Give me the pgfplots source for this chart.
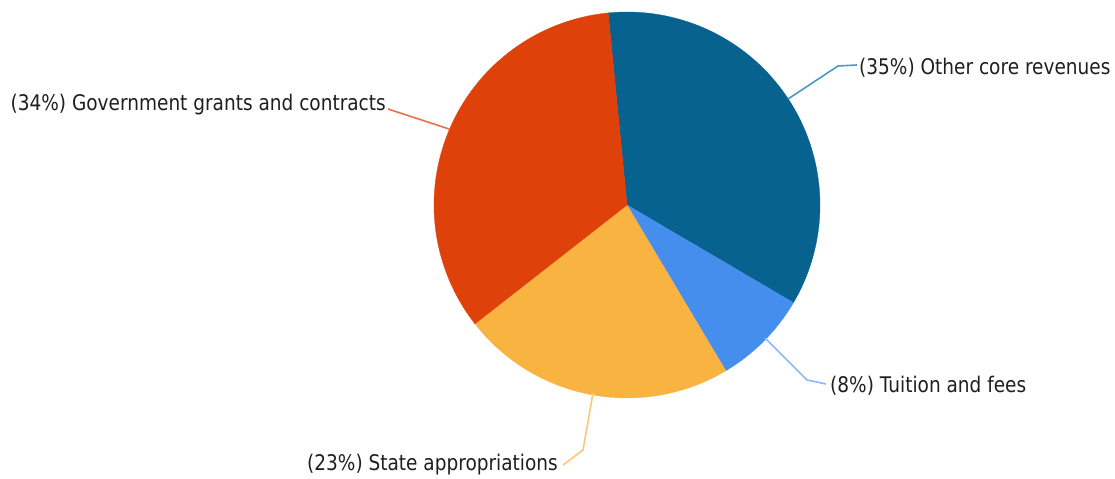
\documentclass[border=0pt]{standalone}
\usepackage{fontspec}
\setmainfont{DejaVu Sans}[FakeStretch=0.86]
\usepackage{pgfplots}
\usepackage{pgfplotstable}
\pgfplotsset{compat=1.18}

\definecolor{cother}{HTML}{07628F}
\definecolor{ctuition}{HTML}{468EEE}
\definecolor{cstate}{HTML}{F9B341}
\definecolor{cgov}{HTML}{DF410A}
\definecolor{lother}{HTML}{4A98C4}
\definecolor{ltuition}{HTML}{8DB9F4}
\definecolor{lstate}{HTML}{FBC878}
\definecolor{lgov}{HTML}{E9714A}

\pgfplotstableread{
label value
other 35
tuition 8
state 23
gov 34
}\piedata

\pgfplotstablegetelem{0}{value}\of\piedata \let\vA\pgfplotsretval
\pgfplotstablegetelem{1}{value}\of\piedata \let\vB\pgfplotsretval
\pgfplotstablegetelem{2}{value}\of\piedata \let\vC\pgfplotsretval
\pgfplotstablegetelem{3}{value}\of\piedata \let\vD\pgfplotsretval
\pgfmathsetmacro\aA{95.6}
\pgfmathsetmacro\aB{\aA-3.6*\vA}
\pgfmathsetmacro\aC{\aB-3.6*\vB}
\pgfmathsetmacro\aD{\aC-3.6*\vC}
\pgfmathsetmacro\aE{\aD-3.6*\vD}

\tikzset{lbl/.style={font=\fontsize{21.6}{25}\selectfont, text=black!88, inner sep=0pt}}

\begin{document}
\begin{tikzpicture}
\begin{axis}[width=1115bp, height=479bp, scale only axis,
  xmin=0, xmax=1115, ymin=0, ymax=479, hide axis, clip=false]
\path[draw=none] (axis cs:0,0) rectangle (axis cs:1115,479);
\addplot[fill=cother, draw=cother, line width=0.3pt, domain=\aB:\aA, samples=120, variable=\t]
  ({627+193*cos(\t)}, {274+193*sin(\t)}) -- (axis cs:627,274) -- cycle;
\addplot[fill=ctuition, draw=ctuition, line width=0.3pt, domain=\aC:\aB, samples=40, variable=\t]
  ({627+193*cos(\t)}, {274+193*sin(\t)}) -- (axis cs:627,274) -- cycle;
\addplot[fill=cstate, draw=cstate, line width=0.3pt, domain=\aD:\aC, samples=90, variable=\t]
  ({627+193*cos(\t)}, {274+193*sin(\t)}) -- (axis cs:627,274) -- cycle;
\addplot[fill=cgov, draw=cgov, line width=0.3pt, domain=\aE:\aD, samples=120, variable=\t]
  ({627+193*cos(\t)}, {274+193*sin(\t)}) -- (axis cs:627,274) -- cycle;
% leader lines
\addplot[lother, line width=1.6pt, mark=none] coordinates {(788,380) (838,413) (857,414)};
\addplot[lgov, line width=1.6pt, mark=none] coordinates {(449,350) (388,370)};
\addplot[ltuition, line width=1.6pt, mark=none] coordinates {(765,141) (807,99) (826,95)};
\addplot[lstate, line width=1.6pt, mark=none] coordinates {(593,86) (583,29) (563,14)};
% labels
\node[lbl, anchor=west] at (axis cs:859,411) {(35\%) Other core revenues};
\node[lbl, anchor=east] at (axis cs:386,374) {(34\%) Government grants and contracts};
\node[lbl, anchor=west] at (axis cs:830,93) {(8\%) Tuition and fees};
\node[lbl, anchor=east] at (axis cs:558,14) {(23\%) State appropriations};
\end{axis}
\end{tikzpicture}
\end{document}
